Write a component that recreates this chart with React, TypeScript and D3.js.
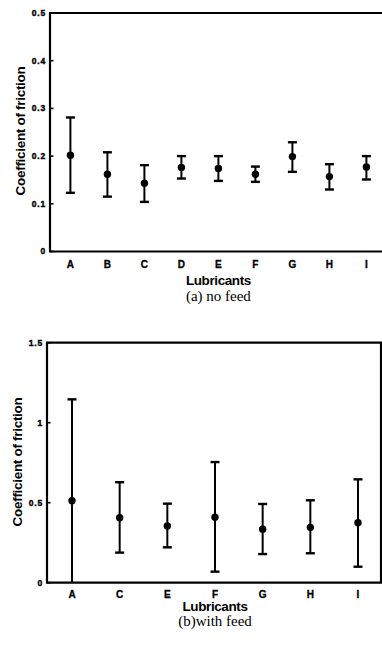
import React from "react";
import * as d3 from "d3";

// ---- Data: (a) no feed ----
const catsA = ["A", "B", "C", "D", "E", "F", "G", "H", "I"];
const meanA = [0.202, 0.162, 0.143, 0.176, 0.174, 0.162, 0.199, 0.157, 0.177];
const upperA = [0.281, 0.208, 0.181, 0.2, 0.2, 0.178, 0.229, 0.183, 0.2];
const lowerA = [0.123, 0.115, 0.104, 0.153, 0.148, 0.146, 0.167, 0.13, 0.151];
const ticksA = [0, 0.1, 0.2, 0.3, 0.4, 0.5];
const tickLabelsA = ["0", "0.1", "0.2", "0.3", "0.4", "0.5"];

// ---- Data: (b) with feed ----
const catsB = ["A", "C", "E", "F", "G", "H", "I"];
const meanB = [0.512, 0.406, 0.354, 0.409, 0.334, 0.346, 0.375];
const upperB = [1.146, 0.628, 0.494, 0.754, 0.492, 0.515, 0.646];
const lowerB = [0, 0.188, 0.221, 0.069, 0.179, 0.184, 0.1];
const ticksB = [0, 0.5, 1, 1.5];
const tickLabelsB = ["0", "0.5", "1", "1.5"];

const SANS = "'Liberation Sans', Arial, sans-serif";
const SERIF = "'Liberation Serif', 'Times New Roman', serif";

type PanelProps = {
  cats: string[];
  mean: number[];
  upper: number[];
  lower: number[];
  ticks: number[];
  tickLabels: string[];
  yMax: number;
  left: number;
  right: number;
  top: number;
  bottom: number;
  firstX: number;
  lastX: number;
  catY: number;
  xTitleY: number;
  captionY: number;
  caption: string;
  yTitleX: number;
  yTitleY: number;
};

function Panel(p: PanelProps) {
  const y = d3.scaleLinear().domain([0, p.yMax]).range([p.bottom, p.top]);
  const x = d3.scalePoint<string>().domain(p.cats).range([p.firstX, p.lastX]);
  const capW = 4.5;
  return (
    <g>
      {/* frame */}
      <path
        d={`M${p.left},${p.bottom}V${p.top}H${p.right}V${p.bottom}Z`}
        fill="none"
        stroke="#000"
        strokeWidth={2.2}
      />
      {/* y ticks */}
      {p.ticks.map((t, i) => (
        <g key={i}>
          <line x1={p.left} x2={p.left + 3.5} y1={y(t)} y2={y(t)} stroke="#000" strokeWidth={1.6} />
          <text
            x={p.left - 4}
            y={y(t)}
            dy="0.35em"
            textAnchor="end"
            fontFamily={SANS}
            fontWeight="bold"
            fontSize={8.5}
            letterSpacing={0.8}
            stroke="#000"
            strokeWidth={0.4}
          >
            {p.tickLabels[i]}
          </text>
        </g>
      ))}
      {/* error bars */}
      {p.cats.map((c, i) => {
        const cx = x(c) as number;
        return (
          <g key={c}>
            <line x1={cx} x2={cx} y1={y(p.upper[i])} y2={y(p.lower[i])} stroke="#000" strokeWidth={2} />
            <line x1={cx - capW} x2={cx + capW} y1={y(p.upper[i])} y2={y(p.upper[i])} stroke="#000" strokeWidth={2.4} />
            {p.lower[i] > 0 && (
              <line x1={cx - capW} x2={cx + capW} y1={y(p.lower[i])} y2={y(p.lower[i])} stroke="#000" strokeWidth={2.4} />
            )}
            <circle cx={cx} cy={y(p.mean[i])} r={3.7} fill="#000" />
            <text
              x={cx}
              y={p.catY}
              textAnchor="middle"
              fontFamily={SANS}
              fontWeight="bold"
              fontSize={10}
              stroke="#000"
              strokeWidth={0.3}
            >
              {c}
            </text>
          </g>
        );
      })}
      <text
        x={(p.firstX + p.lastX) / 2}
        y={p.xTitleY}
        textAnchor="middle"
        fontFamily={SANS}
        fontWeight="bold"
        fontSize={13.5}
        letterSpacing={-0.4}
      >
        Lubricants
      </text>
      <text
        transform={`translate(${p.yTitleX},${p.yTitleY}) rotate(-90)`}
        textAnchor="middle"
        fontFamily={SANS}
        fontWeight="bold"
        fontSize={13.5}
        letterSpacing={-0.3}
      >
        Coefficient of friction
      </text>
      <text
        x={(p.firstX + p.lastX) / 2}
        y={p.captionY}
        textAnchor="middle"
        fontFamily={SERIF}
        fontSize={15}
      >
        {p.caption}
      </text>
    </g>
  );
}

export default function App() {
  return (
    <svg
      width={382}
      height={646}
      style={{ position: "absolute", left: 0, top: 0, background: "#fff" }}
    >
      <rect width={382} height={646} fill="#fff" />
      <Panel
        cats={catsA}
        mean={meanA}
        upper={upperA}
        lower={lowerA}
        ticks={ticksA}
        tickLabels={tickLabelsA}
        yMax={0.5}
        left={50}
        right={384}
        top={13}
        bottom={251.5}
        firstX={70.4}
        lastX={366.4}
        catY={267.5}
        xTitleY={285}
        captionY={301}
        caption="(a) no feed"
        yTitleX={25}
        yTitleY={131}
      />
      <Panel
        cats={catsB}
        mean={meanB}
        upper={upperB}
        lower={lowerB}
        ticks={ticksB}
        tickLabels={tickLabelsB}
        yMax={1.5}
        left={47}
        right={381}
        top={342.7}
        bottom={582.7}
        firstX={72}
        lastX={358}
        catY={598}
        xTitleY={611}
        captionY={626}
        caption="(b)with feed"
        yTitleX={22}
        yTitleY={462}
      />
    </svg>
  );
}
